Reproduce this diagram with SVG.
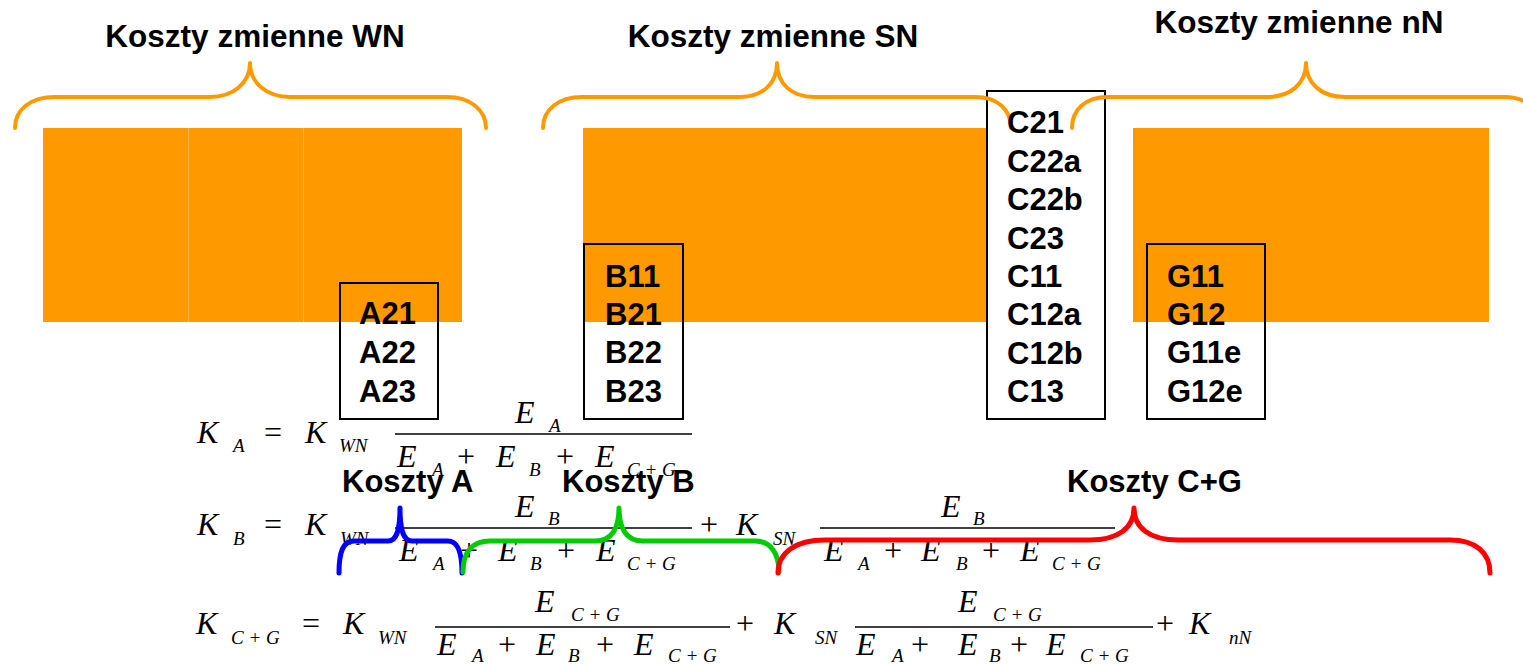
<svg xmlns="http://www.w3.org/2000/svg" width="1523" height="664" viewBox="0 0 1523 664">
<style>
.blk{fill:#FF9900;}
.div{stroke:#FFB347;stroke-width:1;}
.box{fill:none;stroke:#000;stroke-width:2;}
.lbl{font-family:"Liberation Sans",Arial,sans-serif;font-weight:bold;font-size:31px;fill:#000;}
.ttl{font-family:"Liberation Sans",Arial,sans-serif;font-weight:bold;font-size:31.5px;fill:#000;text-anchor:middle;}
.f{font-family:"Liberation Serif","Times New Roman",serif;font-style:italic;font-size:32px;fill:#000;}
.s{font-family:"Liberation Serif","Times New Roman",serif;font-style:italic;font-size:19px;fill:#000;}
.o{font-family:"Liberation Serif","Times New Roman",serif;font-size:32px;fill:#000;}
.fl{stroke:#000;stroke-width:1.3;}
.br{fill:none;stroke-linecap:round;stroke-linejoin:round;}
.bo{stroke:#FF9900;stroke-width:4;}
.bb{stroke:#0000FF;stroke-width:5;}
.bg{stroke:#00CC00;stroke-width:5;}
.bred{stroke:#FF0000;stroke-width:5;}
</style>

<g id="titles">
<text class="ttl" x="255" y="47">Koszty zmienne WN</text>
<text class="ttl" x="773" y="47">Koszty zmienne SN</text>
<text class="ttl" x="1299" y="33">Koszty zmienne nN</text>
</g>

<g id="block-WN">
<rect class="blk" x="43" y="128" width="419" height="194"/>
<line class="div" x1="188.5" y1="128" x2="188.5" y2="322"/>
<line class="div" x1="303.5" y1="128" x2="303.5" y2="322"/>
</g>
<g id="block-SN">
<rect class="blk" x="583" y="128" width="404" height="194"/>
</g>
<g id="block-nN">
<rect class="blk" x="1133" y="128" width="356" height="194"/>
</g>

<g id="formulas">
<!-- row 1 -->
<text class="f" x="197" y="443">K</text><text class="s" x="233" y="452">A</text>
<text class="o" x="264" y="443">=</text>
<text class="f" x="305" y="443">K</text><text class="s" x="339" y="452">WN</text>
<text class="f" x="515" y="423">E</text><text class="s" x="549" y="432">A</text>
<line class="fl" x1="395" y1="434" x2="692" y2="434"/>
<text class="f" x="397" y="467">E</text><text class="s" x="432" y="476">A</text>
<text class="o" x="457" y="467">+</text>
<text class="f" x="496" y="467">E</text><text class="s" x="529" y="476">B</text>
<text class="o" x="556" y="467">+</text>
<text class="f" x="595" y="467">E</text><text class="s" x="627" y="476">C + G</text>
<!-- row 2 -->
<text class="f" x="197" y="535">K</text><text class="s" x="233" y="545">B</text>
<text class="o" x="264" y="535">=</text>
<text class="f" x="305" y="535">K</text><text class="s" x="340" y="545">WN</text>
<text class="f" x="515" y="517">E</text><text class="s" x="548" y="525">B</text>
<line class="fl" x1="395" y1="528" x2="692" y2="528"/>
<text class="f" x="399" y="561">E</text><text class="s" x="433" y="570">A</text>
<text class="o" x="460" y="561">+</text>
<text class="f" x="498" y="561">E</text><text class="s" x="530" y="570">B</text>
<text class="o" x="557" y="561">+</text>
<text class="f" x="596" y="561">E</text><text class="s" x="627" y="570">C + G</text>
<text class="o" x="700" y="535">+</text>
<text class="f" x="736" y="535">K</text><text class="s" x="773" y="545">SN</text>
<text class="f" x="941" y="517">E</text><text class="s" x="973" y="525">B</text>
<line class="fl" x1="820" y1="528" x2="1115" y2="528"/>
<text class="f" x="824" y="561">E</text><text class="s" x="858" y="570">A</text>
<text class="o" x="884" y="561">+</text>
<text class="f" x="921" y="561">E</text><text class="s" x="956" y="570">B</text>
<text class="o" x="982" y="561">+</text>
<text class="f" x="1020" y="561">E</text><text class="s" x="1052" y="570">C + G</text>
<!-- row 3 -->
<text class="f" x="196" y="634">K</text><text class="s" x="231" y="644">C + G</text>
<text class="o" x="302" y="634">=</text>
<text class="f" x="343" y="634">K</text><text class="s" x="378" y="644">WN</text>
<text class="f" x="535" y="612">E</text><text class="s" x="571" y="621">C + G</text>
<line class="fl" x1="435" y1="627" x2="730" y2="627"/>
<text class="f" x="437" y="655">E</text><text class="s" x="472" y="662">A</text>
<text class="o" x="498" y="655">+</text>
<text class="f" x="536" y="655">E</text><text class="s" x="568" y="662">B</text>
<text class="o" x="596" y="655">+</text>
<text class="f" x="634" y="655">E</text><text class="s" x="668" y="662">C + G</text>
<text class="o" x="736" y="634">+</text>
<text class="f" x="774" y="634">K</text><text class="s" x="815" y="644">SN</text>
<text class="f" x="958" y="612">E</text><text class="s" x="993" y="621">C + G</text>
<line class="fl" x1="855" y1="627" x2="1153" y2="627"/>
<text class="f" x="856" y="655">E</text><text class="s" x="892" y="662">A</text>
<text class="o" x="911" y="655">+</text>
<text class="f" x="958" y="655">E</text><text class="s" x="989" y="662">B</text>
<text class="o" x="1010" y="655">+</text>
<text class="f" x="1046" y="655">E</text><text class="s" x="1080" y="662">C + G</text>
<text class="o" x="1156" y="634">+</text>
<text class="f" x="1189" y="634">K</text><text class="s" x="1229" y="644">nN</text>
</g>

<g id="box-C">
<rect x="987" y="91" width="118" height="328" fill="#fff" stroke="#000" stroke-width="2"/>
</g>

<g id="braces">
<path class="br bo" d="M15,128 C15,110 30,97 55,97 L210,97 C233,97 250,83 250,63 C250,83 267,97 290,97 L447,97 C470,97 486,110 486,128"/>
<path class="br bo" d="M543,128 C543,110 558,97 582,97 L740,97 C762,97 777,84 777,63 C777,84 792,97 814,97 L975,97 C998,97 1011,110 1011,128"/>
<path class="br bo" d="M1072,128 C1072,110 1085,97 1108,97 L1267,97 C1290,97 1306,84 1306,63 C1306,84 1322,97 1345,97 L1505,97 C1526,97 1540,110 1540,128"/>
<path class="br bb" d="M339,573 C339,552 343,541 354,541 L388,541 C396,541 400,532 400,508 C400,532 404,541 412,541 L448,541 C458,541 462,552 462,573"/>
<path class="br bg" d="M463,572 C463,552 472,541 490,541 L595,541 C612,541 619,528 619,508 C619,528 626,541 643,541 L755,541 C771,541 779,554 779,572"/>
<path class="br bred" d="M778,573 C778,553 795,540 825,540 L1090,540 C1118,540 1134,528 1134,508 C1134,528 1150,540 1178,540 L1450,540 C1476,540 1490,553 1490,573"/>
</g>

<g id="box-A">
<rect class="box" x="340" y="283" width="98" height="136"/>
<text class="lbl" x="359" y="324">A21</text>
<text class="lbl" x="359" y="363">A22</text>
<text class="lbl" x="359" y="402">A23</text>
</g>
<g id="box-B">
<rect class="box" x="584" y="244" width="99" height="175"/>
<text class="lbl" x="605" y="287">B11</text>
<text class="lbl" x="605" y="325">B21</text>
<text class="lbl" x="605" y="363">B22</text>
<text class="lbl" x="605" y="402">B23</text>
</g>
<g id="box-C-text">
<text class="lbl" x="1007" y="133">C21</text>
<text class="lbl" x="1007" y="171.5">C22a</text>
<text class="lbl" x="1007" y="210">C22b</text>
<text class="lbl" x="1007" y="248.5">C23</text>
<text class="lbl" x="1007" y="287">C11</text>
<text class="lbl" x="1007" y="325">C12a</text>
<text class="lbl" x="1007" y="363.5">C12b</text>
<text class="lbl" x="1007" y="402">C13</text>
</g>
<g id="box-G">
<rect class="box" x="1147" y="244" width="118" height="175"/>
<text class="lbl" x="1167" y="287">G11</text>
<text class="lbl" x="1167" y="325">G12</text>
<text class="lbl" x="1167" y="363">G11e</text>
<text class="lbl" x="1167" y="402">G12e</text>
</g>

<g id="labels">
<text class="lbl" x="342" y="492">Koszty A</text>
<text class="lbl" x="562" y="492">Koszty B</text>
<text class="lbl" x="1067" y="492">Koszty C+G</text>
</g>
</svg>
